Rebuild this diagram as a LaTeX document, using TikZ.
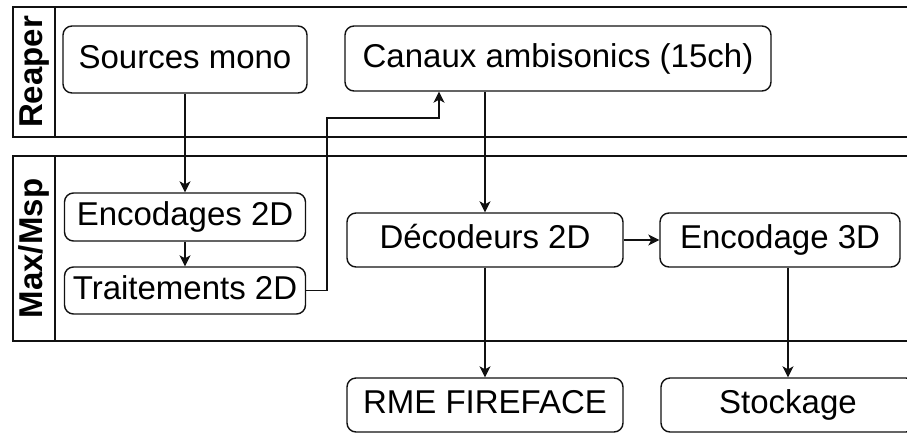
\documentclass[tikz,border=0pt]{standalone}
\usepackage{fontspec}
\setmainfont{Liberation Sans}
\usepackage{tikz}
\usetikzlibrary{arrows.meta,positioning,calc}
\usepackage{xcolor}
\definecolor{LineBlack}{HTML}{111111}

\begin{document}
\begin{tikzpicture}[
    x=1pt, y=-1pt,
    box/.style={draw=LineBlack, fill=white, rounded corners=9pt, line width=1.4pt, font=\fontsize{33}{39}\selectfont, align=center, inner sep=0pt, text height=23.5pt, text depth=6.5pt},
    lane/.style={draw=LineBlack, line width=1.4pt},
    lanelbl/.style={rotate=90, font=\fontsize{33}{39}\selectfont\bfseries, inner sep=0pt, text height=23.5pt, text depth=6.5pt},
    arr/.style={-{Stealth[length=11pt, width=11pt, inset=3pt]}, draw=LineBlack, line width=1.4pt}
  ]
    \useasboundingbox (0,0) rectangle (907,432);
    \clip (0,0) rectangle (907,432);

    % lanes
    \draw[lane] (13,7) rectangle (1000,137);
    \draw[lane] (55,7) -- (55,137);
    \draw[lane] (13,156) rectangle (1000,341);
    \draw[lane] (55,156) -- (55,341);
    \node[lanelbl] (reaper) at (34,72) {Reaper};
    \node[lanelbl] (maxmsp) at (34,248.5) {Max/Msp};

    % nodes
    \node[box, minimum width=244pt, minimum height=67pt] (src) at (185,59.5) {Sources mono};
    \node[box, minimum width=426pt, minimum height=65pt] (amb) at (558,58.5) {Canaux ambisonics (15ch)};
    \node[box, minimum width=241pt, minimum height=48pt] (enc2d) at (185,217) {Encodages 2D};
    \node[box, minimum width=241pt, minimum height=47pt] (trt2d) at (185,290.5) {Traitements 2D};
    \node[box, minimum width=276pt, minimum height=54pt] (dec2d) at (485,240) {Décodeurs 2D};
    \node[box, minimum width=240pt, minimum height=54pt] (enc3d) at (780,240) {Encodage 3D};
    \node[box, minimum width=276pt, minimum height=54pt] (rme) at (485,405) {RME FIREFACE};
    \node[box, minimum width=254pt, minimum height=54pt] (stock) at (788,405) {Stockage};

    \coordinate (bend) at (327,118);

    \draw[arr] (src) -- (enc2d);
    \draw[arr] (enc2d) -- (trt2d);
    \draw[arr] (trt2d.east) -| (bend) -| ([xshift=-119pt]amb.south);
    \draw[arr] (amb.south -| dec2d) -- (dec2d.north);
    \draw[arr] (dec2d) -- (enc3d);
    \draw[arr] (dec2d) -- (rme);
    \draw[arr] (enc3d.south -| stock) -- (stock.north);
  \end{tikzpicture}
\end{document}
